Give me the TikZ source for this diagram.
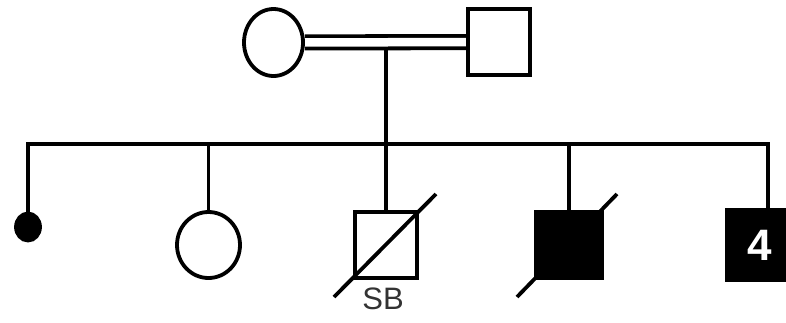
\documentclass[tikz,border=0pt]{standalone}
\usepackage{fontspec}
\setmainfont{Liberation Sans}
\usepackage{tikz}
\usetikzlibrary{shapes.geometric,positioning,backgrounds}
\tikzset{
  person/.style={draw, inner sep=0pt, minimum width=62pt, minimum height=66pt, fill=white},
  female/.style={person, ellipse},
  male/.style={person, rectangle},
  affected/.style={fill=black},
  loss/.style={ellipse, draw, fill=black, inner sep=0pt, minimum width=24pt, minimum height=27pt},
  link/.style={line width=3.8pt},
  mating/.style={link, double, double distance=8.5pt},
  deceased/.style={line cap=butt},
  note/.style={font=\fontsize{31}{31}\selectfont, text=black!80}
}

\begin{document}
\begin{tikzpicture}[x=1pt,y=-1pt,line width=3.8pt]
  \useasboundingbox (0,0) rectangle (786,322);
  \clip (0,0) rectangle (786,322);
  % parents
  \node[female,minimum width=59pt,minimum height=67pt] (mother) at (273.5,42.5) {};
  \node[male] (father) at (499,42) {};
  % children
  \node[loss] (dot) at (28,227) {};
  \node[female,minimum width=63pt] (sister) at (208.5,245) {};
  \node[male] (stillborn) at (386,245) {};
  \node[male,affected,minimum width=66pt] (brother) at (569,245) {};
  \node[male,affected,minimum width=66pt,minimum height=70pt,text=white,font=\fontsize{44}{44}\selectfont\bfseries] (brothers) at (760,245) {4};
  \node[note,below=3pt of stillborn,xshift=-3pt] (sb) {SB};
  \coordinate (mate) at (386,49);
  \coordinate (sib) at (386,144);
  \begin{scope}[on background layer]
    \draw[mating] (mother) -- (father);
    \draw[link] (mate) -- (sib);
    \draw[link] (dot.north) |- (sib) -| ([xshift=8pt]brothers.north);
    \foreach \kid in {sister,stillborn,brother}
      \draw[link] (\kid.north) -- (\kid.north |- sib);
  \end{scope}
  % deceased slashes
  \draw[deceased] ([shift={(-52,52)}]stillborn.center) -- ([shift={(50,-51)}]stillborn.center);
  \draw[deceased] ([shift={(-52,52)}]brother.center) -- ([shift={(48,-51)}]brother.center);
\end{tikzpicture}
\end{document}
